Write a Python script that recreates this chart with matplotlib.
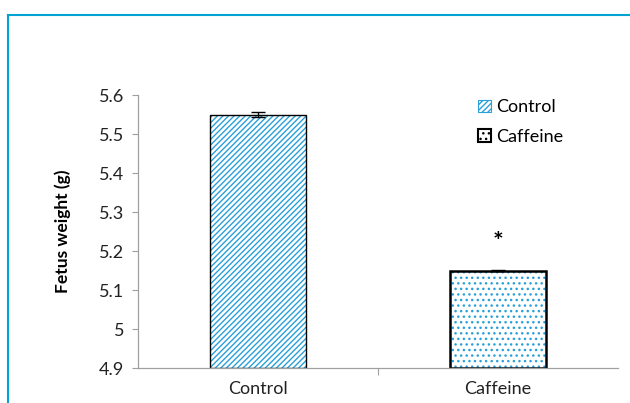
import matplotlib
matplotlib.use("Agg")
import matplotlib.pyplot as plt
from matplotlib.lines import Line2D
from matplotlib.patches import Patch

plt.rcParams['font.family'] = ['Lato', 'DejaVu Sans']
plt.rcParams['hatch.linewidth'] = 1.0

groups = ["Control", "Caffeine"]
weights = [5.55, 5.15]
errors = [0.006, 0.002]
hatches = ["//////", "..."]
edge_widths = [1.0, 1.8]
star_level = 5.222
y_ticks = [4.9, 5.0, 5.1, 5.2, 5.3, 5.4, 5.5, 5.6]
y_ticklabels = ["4.9", "5", "5.1", "5.2", "5.3", "5.4", "5.5", "5.6"]

hatch_blue = '#2aa0da'

fig = plt.figure(figsize=(6.3, 4.03), dpi=100)
ax = fig.add_axes([0.219, 0.0868, 0.762, 0.677])

x = range(len(groups))
for i in x:
    # hatch fill in blue, then a plain outline on top
    ax.bar(i, weights[i] - 4.9, bottom=4.9, width=0.4, color='white',
           edgecolor=hatch_blue, linewidth=0, hatch=hatches[i], zorder=2)
    ax.bar(i, weights[i] - 4.9, bottom=4.9, width=0.4, fill=False,
           edgecolor='black', linewidth=edge_widths[i], zorder=2.5)
    ax.errorbar(i, weights[i], yerr=errors[i], color='black', capsize=5,
                linewidth=1, capthick=1, zorder=3)

ax.text(1, star_level, "*", ha='center', va='center', fontsize=18,
        fontweight='bold')

ax.set_xlim(-0.5, 1.5)
ax.set_ylim(4.9, 5.6)
ax.set_yticks(y_ticks)
ax.set_yticklabels(y_ticklabels, fontsize=13, color='#222222')
ax.set_xticks([0, 1])
ax.set_xticklabels(groups, fontsize=13, color='#222222')
ax.tick_params(axis='x', length=0, pad=9)
ax.tick_params(axis='y', length=4, color='#a0a0a0', width=0.8, pad=6)
ax.set_xticks([0.5], minor=True)
ax.tick_params(axis='x', which='minor', length=5, color='#a0a0a0', width=0.8)

for s in ['top', 'right']:
    ax.spines[s].set_visible(False)
for s in ['left', 'bottom']:
    ax.spines[s].set_color('#a0a0a0')
    ax.spines[s].set_linewidth(0.9)

ax.set_ylabel("Fetus weight (g)", fontsize=12.5, fontweight='bold', labelpad=20)

handles = [Patch(facecolor='white', edgecolor=hatch_blue, hatch='//////', linewidth=0.8),
           Patch(facecolor='white', edgecolor='black', hatch='...', linewidth=1.5)]
leg = ax.legend(handles, groups, loc='upper left', bbox_to_anchor=(0.675, 1.045),
                frameon=False, fontsize=13, handlelength=0.7, handleheight=0.7,
                handletextpad=0.3, labelspacing=0.75)

frame_color = '#00a3d4'
fig.add_artist(Line2D([8 / 630, 1.0], [1 - 15 / 403, 1 - 15 / 403],
                      transform=fig.transFigure, color=frame_color, linewidth=1.5))
fig.add_artist(Line2D([8 / 630, 8 / 630], [0, 1 - 15 / 403],
                      transform=fig.transFigure, color=frame_color, linewidth=1.5))

fig.savefig("out.png", dpi=100)
